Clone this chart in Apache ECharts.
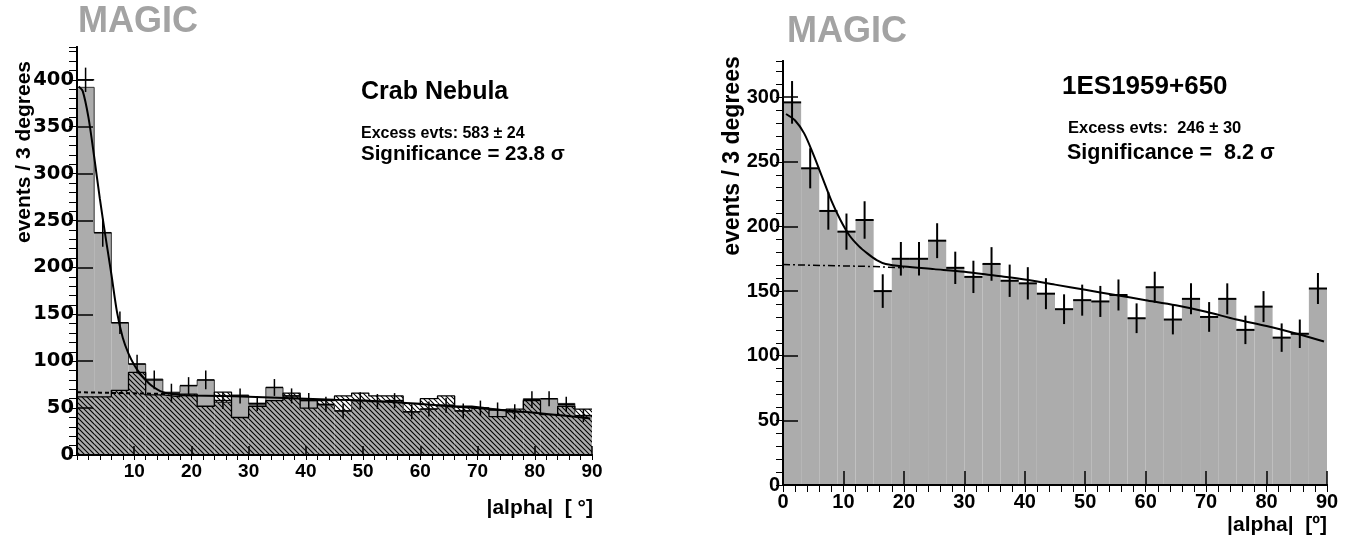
<!DOCTYPE html>
<html>
<head>
<meta charset="utf-8">
<script src="https://cdn.jsdelivr.net/npm/echarts@6/dist/echarts.min.js"></script>
<style>
  html, body { margin: 0; padding: 0; background: #fff; }
  #chart { width: 1349px; height: 537px; }
</style>
</head>
<body>
<div id="chart"></div>
<script>
// alpha histograms, 3 degree bins from 0 to 90
const binWidth = 3

// Crab Nebula: ON counts (gray), normalised OFF counts (hatched), error crosses
const crabOn = [392, 237, 141, 97, 81, 67, 74, 80, 56, 64, 54, 72, 63, 59, 53, 47, 58, 57, 58, 46, 49, 53, 47, 50, 48, 46, 60, 60, 55, 42]
const crabOff = [62, 62, 69, 88, 64, 62, 65, 52, 67, 40, 52, 58, 66, 50, 58, 63, 66, 63, 63, 55, 60, 63, 52, 50, 41, 49, 58, 43, 52, 49]
const crabPts = [400, 237, 141, 97, 80, 66, 74, 80, 58, 63, 55, 72, 63, 58, 54, 47, 58, 57, 58, 46, 49, 53, 47, 50, 48, 46, 59, 60, 54, 42]
const crabErr = [13, 15, 12, 10, 10, 10, 9, 10, 9, 8, 8, 9, 8, 8, 8, 8, 9, 8, 8, 8, 8, 8, 8, 8, 8, 8, 9, 8, 8, 7]
// fit (gaussian + background) and background only
const crabFitX = [0.3, 1, 2, 3, 4, 5, 6, 7, 8, 9, 10, 11, 12, 13, 14, 15, 16, 18, 20, 25, 30, 35, 40, 45, 50, 55, 60, 65, 70, 75, 80, 85, 89.7]
const crabFitY = [393, 388, 360, 318, 273, 232, 193, 152, 125, 108, 96, 87, 80, 74, 70, 67, 65.5, 64, 63.5, 63, 62, 61, 60, 59, 58, 56.5, 54.5, 52, 50, 47.5, 45, 42, 39]
const crabBgX = [0, 4, 8, 12, 16]
const crabBgY = [67, 66.5, 66, 65.5, 65]

// 1ES1959+650
const esOn = [296, 245, 212, 196, 205, 150, 175, 175, 189, 168, 161, 171, 158, 156, 148, 136, 143, 142, 147, 129, 153, 128, 144, 130, 144, 120, 138, 114, 117, 152]
const esErr = [16.5, 15.5, 14.5, 14, 14.5, 13, 13, 13, 13.5, 12.5, 12.5, 13, 12.5, 12.5, 12, 11.5, 12, 12, 12, 11.5, 12, 11.5, 12, 11.5, 12, 11, 12, 11, 11, 12]
const esFitX = [0.5, 2, 3.5, 5, 6.5, 8, 9.5, 11, 12.5, 14, 15.5, 17, 20, 25, 30, 35, 40, 45, 50, 55, 60, 65, 70, 75, 80, 85, 89.5]
const esFitY = [287, 282, 272, 256, 238, 220, 205, 193, 185, 179, 174, 171, 169, 167, 165, 162, 159, 155, 151, 147, 143, 139, 134, 128, 123, 117, 111]
const esBgX = [0, 5, 10, 15, 20]
const esBgY = [170.5, 170, 169.5, 169, 168]

const barGray = '#acacac'
const tickFont = '"Liberation Sans", Arial, sans-serif'

function hatchPattern() {
  const c = document.createElement('canvas')
  c.width = 5
  c.height = 5
  const g = c.getContext('2d')
  g.strokeStyle = '#000'
  g.lineWidth = 1.1
  g.beginPath()
  g.moveTo(-1, -1); g.lineTo(6, 6)
  g.moveTo(4, -1); g.lineTo(6, 1)
  g.moveTo(-1, 4); g.lineTo(1, 6)
  g.stroke()
  return c
}

function barItem(fill) {
  return function (params, api) {
    const p0 = api.coord([api.value(0), 0])
    const p1 = api.coord([api.value(0) + binWidth, api.value(1)])
    return {
      type: 'rect',
      shape: { x: p0[0], y: p1[1], width: p1[0] - p0[0], height: p0[1] - p1[1] },
      style: { fill: fill }
    }
  }
}

function crossItem(width) {
  return function (params, api) {
    const x0 = api.value(0), y = api.value(1), e = api.value(2)
    const a = api.coord([x0, y])
    const b = api.coord([x0 + binWidth, y])
    const t = api.coord([x0 + binWidth / 2, y + e])
    const u = api.coord([x0 + binWidth / 2, y - e])
    return {
      type: 'group',
      children: [
        { type: 'line', shape: { x1: a[0], y1: a[1], x2: b[0], y2: b[1] }, style: { stroke: '#000', lineWidth: width } },
        { type: 'line', shape: { x1: t[0], y1: t[1], x2: u[0], y2: u[1] }, style: { stroke: '#000', lineWidth: width } }
      ]
    }
  }
}

const binned = (vals) => vals.map((v, i) => [i * binWidth, v])
const stepped = (vals) => binned(vals).concat([[90, vals[vals.length - 1]]])
const pairs = (xs, ys) => xs.map((x, i) => [x, ys[i]])

function xAxes(grid, majorLen, minorLen, fontSize, hideZero) {
  return [
    {
      gridIndex: grid, type: 'value', min: 0, max: 90, interval: 10, z: 10,
      axisLine: { show: true, lineStyle: { color: '#000', width: 2 } },
      axisTick: { show: true, inside: true, length: majorLen, lineStyle: { color: '#000', width: 1.5 } },
      axisLabel: {
        margin: 7, color: '#000', fontWeight: 'bold', fontSize: fontSize, fontFamily: tickFont,
        formatter: (v) => (hideZero && v === 0 ? '' : String(v))
      },
      splitLine: { show: false }
    },
    {
      gridIndex: grid, type: 'value', min: 0, max: 90, interval: 2, z: 10,
      axisLine: { show: false },
      axisTick: { show: true, inside: true, length: minorLen, lineStyle: { color: '#000', width: 1 } },
      axisLabel: { show: false }, splitLine: { show: false }
    },
    {
      gridIndex: grid, type: 'value', min: 0, max: 90, position: 'top', z: 10,
      axisLine: { show: true, lineStyle: { color: '#000', width: 2 } },
      axisTick: { show: false }, axisLabel: { show: false }, splitLine: { show: false }
    }
  ]
}

function yAxes(grid, max, majorLen, minorLen, labelFont, fontSize) {
  return [
    {
      gridIndex: grid, type: 'value', min: 0, max: max, interval: 50, z: 10,
      axisLine: { show: true, lineStyle: { color: '#000', width: 2 } },
      axisTick: { show: true, inside: true, length: majorLen, lineStyle: { color: '#000', width: 1.5 } },
      axisLabel: { margin: 3, color: '#000', fontWeight: 'bold', fontSize: fontSize, fontFamily: labelFont, showMaxLabel: false },
      splitLine: { show: false }
    },
    {
      gridIndex: grid, type: 'value', min: 0, max: max, interval: 10, z: 10,
      axisLine: { show: false },
      axisTick: { show: true, inside: true, length: minorLen, lineStyle: { color: '#000', width: 1 } },
      axisLabel: { show: false }, splitLine: { show: false }
    },
    {
      gridIndex: grid, type: 'value', min: 0, max: max, position: 'right', z: 10,
      axisLine: { show: true, lineStyle: { color: '#000', width: 2 } },
      axisTick: { show: false }, axisLabel: { show: false }, splitLine: { show: false }
    }
  ]
}

function text(x, y, str, font, opts) {
  return Object.assign({
    type: 'text', x: x, y: y, z: 20,
    style: { text: str, font: font, fill: '#000', textAlign: 'left', textVerticalAlign: 'middle' }
  }, opts || {})
}

const chart = echarts.init(document.getElementById('chart'), null, { renderer: 'canvas' })

const bold = (px) => 'bold ' + px + 'px "Liberation Sans", Arial, sans-serif'

chart.setOption({
  animation: false,
  backgroundColor: '#fff',
  grid: [
    { left: 77, top: 47, width: 515, height: 408 },
    { left: 783, top: 61, width: 544, height: 424 }
  ],
  xAxis: [].concat(xAxes(0, 9, 5, 19, true), xAxes(1, 14, 7, 20, false)),
  yAxis: [].concat(
    yAxes(0, 435, 16, 8, '"DejaVu Sans", sans-serif', 19.5),
    yAxes(1, 328, 15, 7, tickFont, 20)
  ),
  graphic: [
    text(78, 22, 'MAGIC', bold(36), { style: { text: 'MAGIC', font: bold(36), fill: '#a3a3a3', textVerticalAlign: 'middle' } }),
    text(787, 32, 'MAGIC', bold(36), { style: { text: 'MAGIC', font: bold(36), fill: '#a3a3a3', textVerticalAlign: 'middle' } }),
    text(24, 152, 'events / 3 degrees', bold(21), {
      rotation: Math.PI / 2,
      style: { text: 'events / 3 degrees', font: bold(21), fill: '#000', textAlign: 'center', textVerticalAlign: 'middle' }
    }),
    text(733, 156, 'events / 3 degrees', bold(23), {
      rotation: Math.PI / 2,
      style: { text: 'events / 3 degrees', font: bold(23), fill: '#000', textAlign: 'center', textVerticalAlign: 'middle' }
    }),
    text(361, 92, 'Crab Nebula', bold(25)),
    text(361, 134, 'Excess evts: 583 \u00b1 24', bold(16)),
    text(361, 154, 'Significance = 23.8 \u03c3', bold(20.5)),
    text(593, 508, '|alpha|  [ \u00b0]', bold(21), {
      style: { text: '|alpha|  [ \u00b0]', font: bold(21), fill: '#000', textAlign: 'right', textVerticalAlign: 'middle' }
    }),
    text(1062, 87, '1ES1959+650', bold(26)),
    text(1068, 128, 'Excess evts:  246 \u00b1 30', bold(16.5)),
    text(1067, 153, 'Significance =  8.2 \u03c3', bold(21.5)),
    text(1327, 525, '|alpha|  [\u00ba]', bold(21), {
      style: { text: '|alpha|  [\u00ba]', font: bold(21), fill: '#000', textAlign: 'right', textVerticalAlign: 'middle' }
    })
  ],
  series: [
    // --- Crab Nebula ---
    {
      type: 'custom', xAxisIndex: 0, yAxisIndex: 0, z: 1, clip: true,
      data: binned(crabOn), encode: { x: 0, y: 1 }, renderItem: barItem(barGray)
    },
    {
      type: 'custom', xAxisIndex: 0, yAxisIndex: 0, z: 2, clip: true,
      data: binned(crabOff), encode: { x: 0, y: 1 },
      renderItem: barItem({ image: hatchPattern(), repeat: 'repeat' })
    },
    {
      type: 'line', xAxisIndex: 0, yAxisIndex: 0, z: 3, step: 'end', symbol: 'none',
      data: stepped(crabOn), lineStyle: { color: '#333', width: 1 }
    },
    {
      type: 'line', xAxisIndex: 0, yAxisIndex: 0, z: 3, step: 'end', symbol: 'none',
      data: stepped(crabOff), lineStyle: { color: '#000', width: 1.3 }
    },
    {
      type: 'line', xAxisIndex: 0, yAxisIndex: 0, z: 4, symbol: 'none',
      data: pairs(crabBgX, crabBgY), lineStyle: { color: '#000', width: 2, type: [4, 3] }
    },
    {
      type: 'line', xAxisIndex: 0, yAxisIndex: 0, z: 4, symbol: 'none', smooth: 0.3,
      data: pairs(crabFitX, crabFitY), lineStyle: { color: '#000', width: 2 }
    },
    {
      type: 'custom', xAxisIndex: 0, yAxisIndex: 0, z: 5, clip: true,
      data: crabPts.map((v, i) => [i * binWidth, v, crabErr[i]]), encode: { x: 0, y: 1 },
      renderItem: crossItem(1.5)
    },
    // --- 1ES1959+650 ---
    {
      type: 'custom', xAxisIndex: 3, yAxisIndex: 3, z: 1, clip: true,
      data: binned(esOn), encode: { x: 0, y: 1 }, renderItem: barItem(barGray)
    },
    {
      type: 'line', xAxisIndex: 3, yAxisIndex: 3, z: 4, symbol: 'none',
      data: pairs(esBgX, esBgY), lineStyle: { color: '#000', width: 1.5, type: [7, 3, 2, 3] }
    },
    {
      type: 'line', xAxisIndex: 3, yAxisIndex: 3, z: 4, symbol: 'none', smooth: 0.3,
      data: pairs(esFitX, esFitY), lineStyle: { color: '#000', width: 2 }
    },
    {
      type: 'custom', xAxisIndex: 3, yAxisIndex: 3, z: 5, clip: true,
      data: esOn.map((v, i) => [i * binWidth, v, esErr[i]]), encode: { x: 0, y: 1 },
      renderItem: crossItem(2)
    }
  ]
})
</script>
</body>
</html>
